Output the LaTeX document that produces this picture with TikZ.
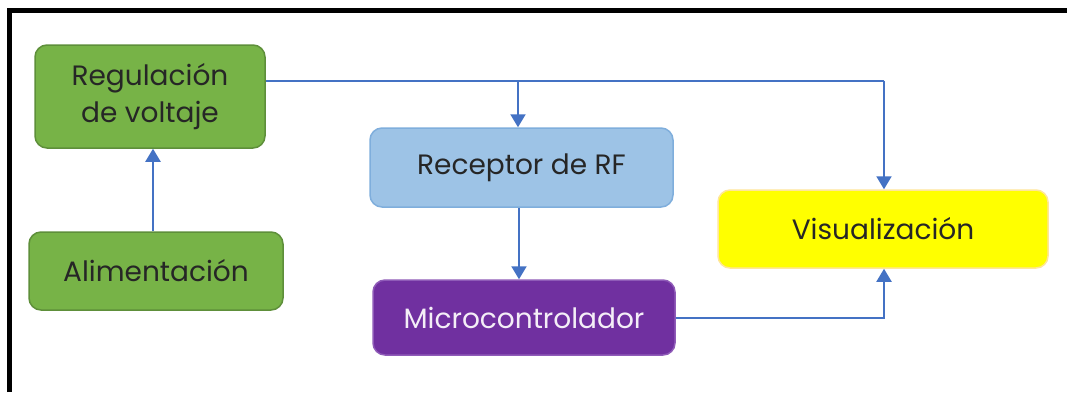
\documentclass[tikz,border=0pt]{standalone}
\usepackage{fontspec}
\setmainfont{Poppins}
\usetikzlibrary{arrows.meta}
\definecolor{grfill}{HTML}{77B347}
\definecolor{grline}{HTML}{5E8F3A}
\definecolor{blfill}{HTML}{9DC3E6}
\definecolor{blline}{HTML}{7FAEDC}
\definecolor{pufill}{HTML}{7030A0}
\definecolor{puline}{HTML}{8F5BB8}
\definecolor{yefill}{HTML}{FFFF00}
\definecolor{yeline}{HTML}{FFE699}
\definecolor{arr}{HTML}{4472C4}
\tikzset{
  box/.style={rounded corners=12pt, line width=1.5pt, inner sep=0pt, align=center, font=\fontsize{28}{37}\selectfont},
  greenbox/.style={box, fill=grfill, draw=grline, text=black!85},
  bluebox/.style={box, fill=blfill, draw=blline, text=black!85},
  purplebox/.style={box, fill=pufill, draw=puline, text=white!92!pufill},
  yellowbox/.style={box, fill=yefill, draw=yeline, text=black!85},
  conn/.style={draw=arr, line width=2pt, -{Triangle[length=13pt,width=15pt]}},
  connplain/.style={draw=arr, line width=2pt}
}
\begin{document}
\begin{tikzpicture}[x=1pt,y=-1pt]
\useasboundingbox (0,0) rectangle (1067,392);
\fill[white] (0,0) rectangle (1067,392);
% frame
\draw[line width=5pt] (9.5,392) -- (9.5,10.5) -- (1067,10.5);
% nodes
\node[greenbox, minimum width=230pt, minimum height=103pt] (reg) at (150,96.5) {Regulación\\de voltaje};
\node[greenbox, minimum width=254pt, minimum height=78pt] (ali) at (156,271) {Alimentación};
\node[bluebox, minimum width=303pt, minimum height=79pt] (rec) at (521.5,167.5) {Receptor de RF};
\node[purplebox, minimum width=302pt, minimum height=75pt] (mic) at (524,317.5) {Microcontrolador};
\node[yellowbox, minimum width=330pt, minimum height=78pt] (vis) at (883,229) {Visualización};
% connectors
\coordinate (j1) at (518,80.5);
\coordinate (j2) at (884,80.5);
\coordinate (j3) at (884,317.5);
\draw[conn] (ali.north -| 153,0) -- (reg.south -| 153,0);
\draw[connplain] (reg.east |- j1) -- (j2);
\draw[conn] (j1) -- (rec.north -| j1);
\draw[conn] (j2) -- (vis.north -| j2);
\draw[conn] (rec.south -| 519,0) -- (mic.north -| 519,0);
\draw[conn] (mic.east) -- (j3) -- (vis.south -| j3);
\end{tikzpicture}
\end{document}
